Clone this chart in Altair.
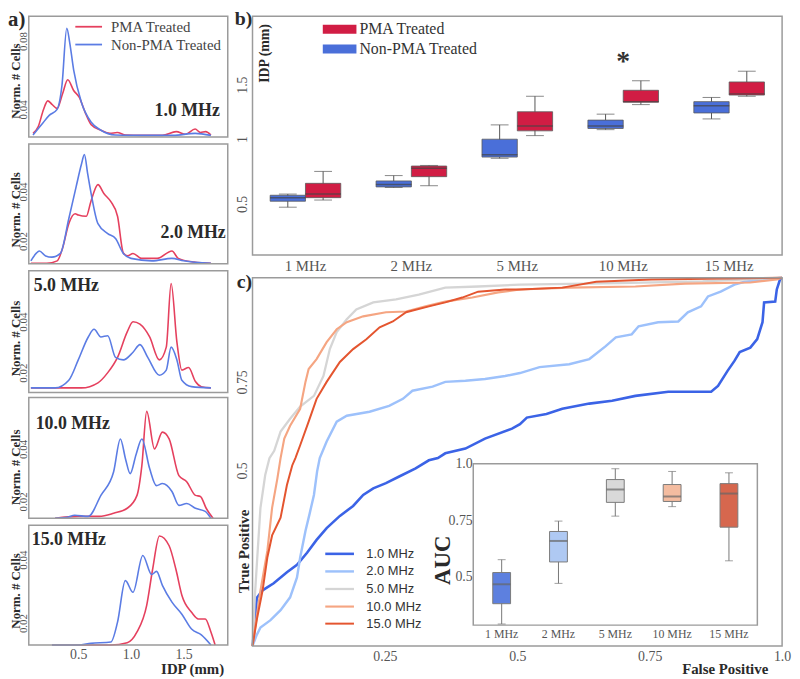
import altair as alt
import pandas as pd

SERIF = "Liberation Serif"
SANS = "Liberation Sans"
FRAME = "#9b9b9b"
LABEL = "#555555"
DARK = "#2a2a2a"
W, H = 792, 671  # drawing area (page minus the 8 px top/left margin)

# ---------------- panel a : IDP density per frequency ----------------
groups = ["PMA Treated", "Non-PMA Treated"]
colors_a = ["#e5405e", "#5b7ce4"]
idp_domain = [0.03, 1.92]
a_freq = ["1.0 MHz", "2.0 MHz", "5.0 MHz", "10.0 MHz", "15.0 MHz"]
a_ydomain = [[0.0238, 0.0945], [0.0108, 0.0592], [0.0122, 0.0600], [0.0136, 0.0596], [0.0131, 0.0509]]
a_yticks = [[0.04, 0.08], [0.02, 0.04], [0.02, 0.04], [0.02, 0.04], [0.02, 0.04]]

d1_pma = [(0.07, 0.026), (0.12, 0.030), (0.17, 0.040), (0.21, 0.045), (0.25, 0.043), (0.30, 0.0406),
          (0.35, 0.049), (0.40, 0.0574), (0.456, 0.0511), (0.51, 0.047), (0.567, 0.038), (0.623, 0.031),
          (0.715, 0.0278), (0.80, 0.026), (0.87, 0.0265), (0.95, 0.025), (1.10, 0.0248), (1.30, 0.0248),
          (1.43, 0.027), (1.52, 0.0255), (1.61, 0.0285), (1.66, 0.0265), (1.71, 0.027), (1.76, 0.025)]
d1_non = [(0.07, 0.025), (0.15, 0.031), (0.224, 0.0365), (0.299, 0.040), (0.345, 0.054), (0.391, 0.0875),
          (0.419, 0.079), (0.456, 0.0632), (0.53, 0.0441), (0.623, 0.0325), (0.715, 0.0278), (0.85, 0.025),
          (1.0, 0.0248), (1.4, 0.0248), (1.61, 0.026), (1.76, 0.0248)]
d2_pma = [(0.05, 0.011), (0.20, 0.011), (0.30, 0.012), (0.35, 0.017), (0.41, 0.027), (0.47, 0.031),
          (0.50, 0.0305), (0.576, 0.030), (0.62, 0.036), (0.687, 0.0428), (0.743, 0.0392), (0.808, 0.036),
          (0.873, 0.030), (0.928, 0.0152), (0.97, 0.014), (1.02, 0.015), (1.10, 0.013), (1.25, 0.013),
          (1.39, 0.016), (1.45, 0.013), (1.60, 0.0115), (1.76, 0.011)]
d2_non = [(0.05, 0.012), (0.10, 0.015), (0.13, 0.016), (0.19, 0.014), (0.25, 0.0135), (0.33, 0.015),
          (0.41, 0.029), (0.48, 0.042), (0.53, 0.051), (0.558, 0.055), (0.59, 0.047), (0.623, 0.039),
          (0.687, 0.027), (0.78, 0.023), (0.854, 0.021), (0.928, 0.015), (1.0, 0.013), (1.2, 0.012),
          (1.39, 0.013), (1.5, 0.012), (1.76, 0.011)]
d3_pma = [(0.05, 0.014), (0.53, 0.014), (0.687, 0.016), (0.78, 0.020), (0.873, 0.026), (0.965, 0.036),
          (1.02, 0.040), (1.086, 0.039), (1.178, 0.034), (1.27, 0.025), (1.336, 0.030), (1.382, 0.055),
          (1.437, 0.032), (1.484, 0.021), (1.548, 0.022), (1.613, 0.0165), (1.669, 0.0145), (1.76, 0.014)]
d3_non = [(0.05, 0.014), (0.28, 0.014), (0.41, 0.017), (0.50, 0.025), (0.595, 0.034), (0.65, 0.037),
          (0.715, 0.034), (0.78, 0.0345), (0.854, 0.026), (0.928, 0.025), (1.02, 0.028), (1.086, 0.031),
          (1.16, 0.026), (1.27, 0.019), (1.336, 0.021), (1.382, 0.030), (1.437, 0.025), (1.484, 0.017),
          (1.576, 0.0145), (1.76, 0.014)]
d4_pma = [(0.28, 0.0136), (0.50, 0.0143), (0.70, 0.0143), (0.836, 0.0155), (0.965, 0.0174), (1.058, 0.0223),
          (1.104, 0.0336), (1.15, 0.0543), (1.224, 0.040), (1.299, 0.0464), (1.363, 0.0438), (1.456, 0.0298),
          (1.53, 0.0275), (1.613, 0.0223), (1.66, 0.0219), (1.715, 0.0174), (1.78, 0.0136)]
d4_non = [(0.28, 0.0136), (0.40, 0.014), (0.465, 0.0147), (0.595, 0.0143), (0.715, 0.0223), (0.836, 0.0313),
          (0.90, 0.0438), (0.95, 0.036), (0.993, 0.0306), (1.05, 0.038), (1.104, 0.0438), (1.178, 0.0325),
          (1.243, 0.026), (1.299, 0.0268), (1.39, 0.0238), (1.456, 0.0185), (1.53, 0.0192), (1.613, 0.0174),
          (1.706, 0.0162), (1.76, 0.0136)]
d5_pma = [(0.25, 0.0131), (0.81, 0.0131), (0.965, 0.0138), (1.058, 0.0172), (1.15, 0.0256), (1.206, 0.0369),
          (1.271, 0.0475), (1.363, 0.0444), (1.428, 0.0369), (1.484, 0.0288), (1.576, 0.0234), (1.641, 0.0213),
          (1.706, 0.0213), (1.76, 0.0172), (1.80, 0.0131)]
d5_non = [(0.25, 0.0131), (0.50, 0.0131), (0.62, 0.0136), (0.81, 0.014), (0.873, 0.0203), (0.947, 0.0334),
          (1.02, 0.0297), (1.113, 0.0413), (1.197, 0.0353), (1.243, 0.0363), (1.299, 0.0319), (1.39, 0.0266),
          (1.484, 0.0228), (1.576, 0.0181), (1.669, 0.0163), (1.76, 0.0131)]
a_series = [(d1_pma, d1_non), (d2_pma, d2_non), (d3_pma, d3_non), (d4_pma, d4_non), (d5_pma, d5_non)]

# ---------------- panel b : IDP box plots ----------------
freqs = ["1 MHz", "2 MHz", "5 MHz", "10 MHz", "15 MHz"]
colors_b = ["#d11d44", "#4a6fd9"]
non_lo = [0.40, 0.565, 0.81, 1.05, 1.14]
non_q1 = [0.45, 0.57, 0.82, 1.06, 1.19]
non_med = [0.48, 0.59, 0.84, 1.08, 1.25]
non_q3 = [0.50, 0.62, 0.97, 1.13, 1.285]
non_hi = [0.51, 0.665, 1.09, 1.18, 1.32]
pma_lo = [0.46, 0.58, 1.00, 1.26, 1.33]
pma_q1 = [0.48, 0.656, 1.04, 1.28, 1.34]
pma_med = [0.51, 0.726, 1.08, 1.285, 1.35]
pma_q3 = [0.60, 0.745, 1.20, 1.38, 1.45]
pma_hi = [0.70, 0.75, 1.33, 1.46, 1.54]
sig_freq = ["10 MHz"]
sig_y = [1.65]

# ---------------- panel c : ROC curves ----------------
roc_names = ["1.0 MHz", "2.0 MHz", "5.0 MHz", "10.0 MHz", "15.0 MHz"]
roc_colors = ["#3b63e6", "#9dc1fb", "#d5d5d5", "#f5a582", "#e4552f"]
roc_1 = [(0, 0), (0.004, 0.05), (0.008, 0.13), (0.019, 0.151), (0.04, 0.17), (0.065, 0.2), (0.084, 0.22),
         (0.103, 0.253), (0.121, 0.288), (0.14, 0.32), (0.165, 0.353), (0.19, 0.38), (0.209, 0.41),
         (0.228, 0.428), (0.252, 0.442), (0.277, 0.46), (0.308, 0.482), (0.333, 0.504), (0.35, 0.51),
         (0.364, 0.523), (0.402, 0.536), (0.439, 0.563), (0.49, 0.59), (0.505, 0.602), (0.518, 0.62),
         (0.555, 0.63), (0.585, 0.644), (0.636, 0.658), (0.679, 0.666), (0.723, 0.679), (0.785, 0.69),
         (0.866, 0.69), (0.879, 0.706), (0.897, 0.747), (0.91, 0.774), (0.92, 0.798), (0.94, 0.81),
         (0.953, 0.833), (0.963, 0.879), (0.966, 0.933), (0.987, 0.935), (0.99, 0.968), (0.996, 0.995), (1, 1)]
roc_2 = [(0, 0), (0.008, 0.03), (0.015, 0.05), (0.034, 0.07), (0.053, 0.097), (0.071, 0.132), (0.084, 0.186),
         (0.09, 0.24), (0.1, 0.312), (0.108, 0.36), (0.116, 0.41), (0.122, 0.474), (0.127, 0.51), (0.14, 0.555),
         (0.159, 0.609), (0.178, 0.625), (0.221, 0.636), (0.258, 0.652), (0.284, 0.671), (0.302, 0.693),
         (0.34, 0.704), (0.364, 0.717), (0.402, 0.72), (0.439, 0.725), (0.477, 0.733), (0.505, 0.741),
         (0.542, 0.757), (0.598, 0.765), (0.636, 0.779), (0.667, 0.814), (0.686, 0.838), (0.716, 0.846),
         (0.729, 0.868), (0.766, 0.879), (0.804, 0.881), (0.822, 0.906), (0.847, 0.922), (0.86, 0.949),
         (0.884, 0.962), (0.91, 0.981), (0.929, 0.989), (1.0, 1.0)]
roc_5 = [(0, 0), (0.002, 0.05), (0.004, 0.124), (0.009, 0.24), (0.015, 0.375), (0.024, 0.464), (0.032, 0.51),
         (0.041, 0.53), (0.053, 0.582), (0.071, 0.617), (0.09, 0.65), (0.116, 0.679), (0.134, 0.733),
         (0.146, 0.806), (0.159, 0.852), (0.178, 0.887), (0.196, 0.914), (0.228, 0.933), (0.271, 0.941),
         (0.314, 0.954), (0.364, 0.973), (0.426, 0.976), (0.505, 0.981), (0.69, 0.985), (0.85, 0.99), (1, 1)]
roc_10 = [(0, 0), (0.006, 0.06), (0.015, 0.15), (0.028, 0.258), (0.037, 0.375), (0.047, 0.455), (0.053, 0.51),
          (0.06, 0.563), (0.071, 0.598), (0.09, 0.644), (0.1, 0.717), (0.106, 0.752), (0.121, 0.779),
          (0.14, 0.825), (0.159, 0.86), (0.178, 0.879), (0.209, 0.895), (0.252, 0.906), (0.29, 0.908),
          (0.327, 0.922), (0.364, 0.935), (0.415, 0.946), (0.464, 0.96), (0.505, 0.968), (0.598, 0.973),
          (0.723, 0.976), (0.817, 0.984), (0.94, 0.987), (0.99, 0.995), (1, 1)]
roc_15 = [(0, 0), (0.009, 0.078), (0.019, 0.15), (0.028, 0.24), (0.037, 0.3), (0.053, 0.348), (0.065, 0.437),
          (0.075, 0.49), (0.081, 0.51), (0.09, 0.545), (0.106, 0.609), (0.121, 0.671), (0.14, 0.717),
          (0.165, 0.771), (0.19, 0.806), (0.215, 0.833), (0.24, 0.865), (0.265, 0.881), (0.29, 0.906),
          (0.333, 0.922), (0.364, 0.933), (0.396, 0.946), (0.426, 0.962), (0.477, 0.968), (0.505, 0.968),
          (0.585, 0.973), (0.649, 0.989), (0.753, 0.995), (1, 1)]
roc_series = [roc_1, roc_2, roc_5, roc_10, roc_15]

# inset : AUC box plots
auc_colors = ["#5d80df", "#afc9f3", "#d9d9d9", "#f4bca0", "#d6674e"]
auc_lo = [0.29, 0.47, 0.768, 0.81, 0.57]
auc_q1 = [0.38, 0.565, 0.829, 0.833, 0.719]
auc_med = [0.466, 0.658, 0.886, 0.855, 0.868]
auc_q3 = [0.518, 0.70, 0.93, 0.908, 0.912]
auc_hi = [0.575, 0.746, 0.978, 0.966, 0.96]

# ---------------- layout (pixels inside drawing area) ----------------
A_X = (21, 222)
A_Y = [(5, 127), (134, 255), (262, 385), (390, 512), (519, 640)]
A_TITLE_Y = [70, 200, 330, 460, 585]
A_TAG = [(214, 101, "right"), (220, 224, "right"), (26, 277, "left"), (28, 417, "left"), (24, 534, "left")]
B_X = (247, 782)
B_Y = (5, 246)
C_X = (247, 782)
C_Y = (269, 641)
I_X = (470, 757)
I_Y = (457, 620)
FMT2 = "format(datum.value, '.2~f')"
FMT_ONE = "datum.value == 1 ? '1.0' : format(datum.value, '.2~f')"


def no_axis_common():
    return dict(ticks=False, domain=False, grid=False, labelOverlap=False, labelFlush=False)


def density_panel(i):
    pma, non = a_series[i]
    rows = [{"idp": x, "dens": y, "group": "PMA Treated"} for x, y in pma]
    rows += [{"idp": x, "dens": y, "group": "Non-PMA Treated"} for x, y in non]
    df = pd.DataFrame(rows)
    top, bottom = A_Y[i]
    if i == 4:
        x_axis = alt.Axis(orient="bottom", offset=-(H - bottom), values=[0.5, 1.0, 1.5], format=".1f",
                          labelFont=SERIF, labelFontSize=14, labelColor=LABEL, labelPadding=3, labelAngle=0,
                          title="IDP (mm)", titleFont=SERIF, titleFontSize=15, titleFontWeight="bold",
                          titleColor=DARK, titleX=186, titleY=24, titleAlign="center", titleBaseline="middle",
                          **no_axis_common())
    else:
        x_axis = None
    if i == 0:
        legend = alt.Legend(orient="none", legendX=73, legendY=7, title=None, symbolType="M-1.8,0L1.8,0",
                            symbolSize=225, symbolStrokeWidth=1.8, labelFont=SERIF, labelFontSize=15,
                            labelColor="#444444", labelOffset=14, rowPadding=1, padding=0)
    else:
        legend = None
    return alt.Chart(df).mark_line(strokeWidth=1.6, interpolate="monotone").encode(
        x=alt.X("idp:Q", scale=alt.Scale(domain=idp_domain, range=list(A_X), nice=False, zero=False),
                axis=x_axis),
        y=alt.Y("dens:Q", scale=alt.Scale(domain=a_ydomain[i], range=[bottom, top], nice=False, zero=False),
                axis=alt.Axis(orient="left", offset=-A_X[0], values=a_yticks[i], labelExpr=FMT2,
                              labelAngle=270, labelAlign="center", labelBaseline="bottom", labelPadding=0,
                              labelFont=SERIF, labelFontSize=11, labelColor=LABEL,
                              title="Norm. # Cells", titleFont=SERIF, titleFontSize=13, titleFontWeight="bold",
                              titleColor=DARK, titleAngle=270, titleAlign="center", titleBaseline="middle",
                              titleX=-13, titleY=A_TITLE_Y[i], **no_axis_common())),
        color=alt.Color("group:N", scale=alt.Scale(domain=groups, range=colors_a), legend=legend),
    )


panel_a = alt.layer(*[density_panel(i) for i in range(5)]).resolve_scale(
    x="independent", y="independent", color="independent")

# ---- panel b
b_rows = []
for k, f in enumerate(freqs):
    b_rows.append({"freq": f, "group": "Non-PMA Treated", "lo": non_lo[k], "q1": non_q1[k],
                   "med": non_med[k], "q3": non_q3[k], "hi": non_hi[k]})
    b_rows.append({"freq": f, "group": "PMA Treated", "lo": pma_lo[k], "q1": pma_q1[k],
                   "med": pma_med[k], "q3": pma_q3[k], "hi": pma_hi[k]})
df_b = pd.DataFrame(b_rows)

xb = alt.X("freq:N", scale=alt.Scale(domain=freqs, range=list(B_X), paddingInner=0, paddingOuter=0),
           axis=alt.Axis(orient="bottom", offset=-(H - B_Y[1]), labelAngle=0, labelFont=SERIF, labelFontSize=15,
                         labelColor=LABEL, labelPadding=4, title=None, **no_axis_common()))
xob = alt.XOffset("group:N", scale=alt.Scale(domain=["Non-PMA Treated", "PMA Treated"],
                                             paddingInner=0, paddingOuter=0.5))


def yb(field):
    return alt.Y(field, type="quantitative",
                 scale=alt.Scale(domain=[0, 2], range=[B_Y[1], B_Y[0]], nice=False, zero=False),
                 axis=alt.Axis(orient="left", offset=-B_X[0], values=[0.5, 1, 1.5], labelExpr=FMT2,
                               labelAngle=270, labelAlign="right", labelBaseline="bottom", labelPadding=3,
                               labelFont=SERIF, labelFontSize=14, labelColor=LABEL,
                               title="IDP (mm)", titleFont=SERIF, titleFontSize=14, titleFontWeight="bold",
                               titleColor=DARK, titleAngle=270, titleAlign="center", titleBaseline="middle",
                               titleX=12, titleY=42, **no_axis_common()))


base_b = alt.Chart(df_b)
b_whisk = base_b.mark_rule(color="#555555", strokeWidth=1).encode(x=xb, xOffset=xob, y=yb("lo"), y2="hi:Q")
b_cap_lo = base_b.mark_tick(color="#555555", size=18, thickness=1).encode(x=xb, xOffset=xob, y=yb("lo"))
b_cap_hi = base_b.mark_tick(color="#555555", size=18, thickness=1).encode(x=xb, xOffset=xob, y=yb("hi"))
b_box = base_b.mark_bar(stroke="#5a5a5a", strokeWidth=0.8).encode(
    x=xb, xOffset=xob, y=yb("q1"), y2="q3:Q",
    color=alt.Color("group:N", scale=alt.Scale(domain=groups, range=colors_b),
                    legend=alt.Legend(orient="none", legendX=327, legendY=10, title=None,
                                      symbolType="M-2.125,-0.5625L2.125,-0.5625L2.125,0.5625L-2.125,0.5625Z",
                                      symbolSize=256, symbolStrokeWidth=0, labelFont=SERIF, labelFontSize=16,
                                      labelColor="#333333", labelOffset=12, rowPadding=4, padding=0)))
b_med = base_b.mark_tick(color="#444444", size=36, thickness=1.5).encode(x=xb, xOffset=xob, y=yb("med"))
b_sig = alt.Chart(pd.DataFrame({"freq": sig_freq, "y": sig_y, "t": ["*"]})).mark_text(
    font=SERIF, fontSize=28, fontWeight="bold", color="#333333", baseline="middle", dy=4).encode(
    x=xb, y=yb("y"), text="t:N")
panel_b = alt.layer(b_whisk, b_cap_lo, b_cap_hi, b_box, b_med, b_sig)

# ---- panel c
c_rows = []
for name, pts in zip(roc_names, roc_series):
    for j, (fx, ty) in enumerate(pts):
        c_rows.append({"series": name, "fpr": fx, "tpr": ty, "i": j})
df_c = pd.DataFrame(c_rows)
panel_c = alt.Chart(df_c).mark_line(interpolate="linear").encode(
    x=alt.X("fpr:Q", scale=alt.Scale(domain=[0, 1], range=list(C_X), nice=False, zero=False),
            axis=alt.Axis(orient="bottom", offset=-(H - C_Y[1]), values=[0.25, 0.5, 0.75, 1.0],
                          labelExpr=FMT_ONE,
                          labelFont=SERIF, labelFontSize=14, labelColor=LABEL, labelPadding=4, labelAngle=0,
                          title="False Positive", titleFont=SERIF, titleFontSize=15, titleFontWeight="bold",
                          titleColor=DARK, titleX=724, titleY=23, titleAlign="center", titleBaseline="middle",
                          **no_axis_common())),
    y=alt.Y("tpr:Q", scale=alt.Scale(domain=[0, 1], range=[C_Y[1], C_Y[0]], nice=False, zero=False),
            axis=alt.Axis(orient="left", offset=-C_X[0], values=[0.5, 0.75], labelExpr=FMT2,
                          labelAngle=270, labelAlign="right", labelBaseline="bottom", labelPadding=3,
                          labelFont=SERIF, labelFontSize=14, labelColor=LABEL,
                          title="True Positive", titleFont=SERIF, titleFontSize=15, titleFontWeight="bold",
                          titleColor=DARK, titleAngle=270, titleAlign="center", titleBaseline="middle",
                          titleX=-9, titleY=545, **no_axis_common())),
    color=alt.Color("series:N", scale=alt.Scale(domain=roc_names, range=roc_colors),
                    legend=alt.Legend(orient="none", legendX=327, legendY=540, title=None,
                                      symbolType="M-2.23,0L2.23,0", symbolSize=169, symbolStrokeWidth=3,
                                      labelFont=SANS, labelFontSize=13, labelColor="#333333",
                                      labelOffset=19, rowPadding=2.75, padding=0)),
    strokeWidth=alt.StrokeWidth("series:N", scale=alt.Scale(domain=roc_names, range=[2.6, 2, 2, 2, 2.6]),
                                legend=None),
    order=alt.Order("i:Q"),
)

# ---- inset
df_i = pd.DataFrame({"freq": freqs, "lo": auc_lo, "q1": auc_q1, "med": auc_med, "q3": auc_q3, "hi": auc_hi})
xi = alt.X("freq:N", scale=alt.Scale(domain=freqs, range=list(I_X), paddingInner=0, paddingOuter=0),
           axis=alt.Axis(orient="bottom", offset=-(H - I_Y[1]), labelAngle=0, labelFont=SERIF, labelFontSize=12,
                         labelColor=LABEL, labelPadding=4, title=None, **no_axis_common()))


def yi(field):
    return alt.Y(field, type="quantitative",
                 scale=alt.Scale(domain=[0.285, 1.0], range=[I_Y[1], I_Y[0]], nice=False, zero=False),
                 axis=alt.Axis(orient="left", offset=-I_X[0], values=[0.5, 0.75, 1.0], labelExpr=FMT_ONE,
                               labelAngle=0, labelAlign="right", labelBaseline="middle", labelPadding=1,
                               labelFont=SERIF, labelFontSize=14, labelColor=LABEL,
                               title="AUC", titleFont=SERIF, titleFontSize=23, titleFontWeight="bold",
                               titleColor=DARK, titleAngle=270, titleAlign="center", titleBaseline="middle",
                               titleX=-31, titleY=554, **no_axis_common()))


def frame(x0, x1, y0, y1, fill="#ffffff", opacity=0.0):
    return alt.Chart(pd.DataFrame({"k": [0]})).mark_rect(
        fill=fill, fillOpacity=opacity, stroke=FRAME, strokeWidth=1.5).encode(
        x=alt.value(x0), x2=alt.value(x1), y=alt.value(y0), y2=alt.value(y1))


base_i = alt.Chart(df_i)
i_bg = frame(I_X[0], I_X[1], I_Y[0], I_Y[1], opacity=1.0)
i_whisk = base_i.mark_rule(color="#777777", strokeWidth=1).encode(x=xi, y=yi("lo"), y2="hi:Q")
i_cap_lo = base_i.mark_tick(color="#777777", size=8, thickness=1).encode(x=xi, y=yi("lo"))
i_cap_hi = base_i.mark_tick(color="#777777", size=8, thickness=1).encode(x=xi, y=yi("hi"))
i_box = base_i.mark_bar(size=18, stroke="#7a7a7a", strokeWidth=1).encode(
    x=xi, y=yi("q1"), y2="q3:Q",
    color=alt.Color("freq:N", scale=alt.Scale(domain=freqs, range=auc_colors), legend=None))
i_med = base_i.mark_tick(color="#666666", size=18, thickness=2).encode(x=xi, y=yi("med"))
inset = alt.layer(i_bg, i_whisk, i_cap_lo, i_cap_hi, i_box, i_med)


# ---- frames and panel tags
def tag(text, x, y, size, align="left", baseline="middle", weight="bold", color=DARK):
    return alt.Chart(pd.DataFrame({"t": [text]})).mark_text(
        align=align, baseline=baseline, font=SERIF, fontSize=size, fontWeight=weight, color=color).encode(
        text="t:N", x=alt.value(x), y=alt.value(y))


decor = [frame(A_X[0], A_X[1], t, b) for t, b in A_Y]
decor += [frame(B_X[0], B_X[1], B_Y[0], B_Y[1]), frame(C_X[0], C_X[1], C_Y[0], C_Y[1])]
decor += [tag(a_freq[i], A_TAG[i][0], A_TAG[i][1], 18, align=A_TAG[i][2]) for i in range(5)]
decor += [tag("a)", 0, 15, 21, baseline="alphabetic"), tag("b)", 229, 14, 20, baseline="alphabetic"),
          tag("c)", 231, 279, 20, baseline="alphabetic")]
annotations = alt.layer(*decor)

chart = alt.layer(panel_a, panel_b, panel_c, inset, annotations).resolve_scale(
    x="independent", y="independent", color="independent", strokeWidth="independent"
).properties(
    width=W, height=H, autosize=alt.AutoSizeParams(type="none"), padding=0, background="white"
).configure_view(strokeWidth=0)

chart.save("out.html", embed_options={"renderer": "svg", "actions": False})
